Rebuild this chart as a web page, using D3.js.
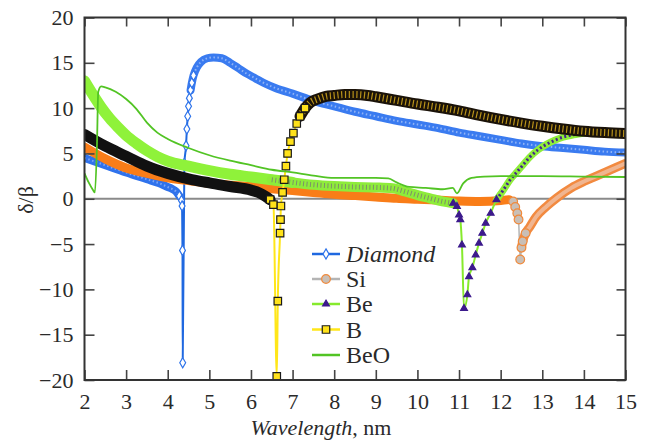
<!DOCTYPE html>
<html>
<head>
<meta charset="utf-8">
<script src="https://cdn.jsdelivr.net/npm/d3@7"></script>
<style>
  body { margin: 0; background: #fff; }
  svg { display: block; }
</style>
</head>
<body>
<div id="chart"></div>
<script>

// Data (wavelength in nm, delta/beta)
// ======================================================

const diamondX = [2.0, 2.5, 3.0, 3.5, 3.8, 4.0, 4.1, 4.2, 4.28, 4.33, 4.345, 4.355, 4.36, 4.40, 4.44, 4.46, 4.48, 4.5, 4.52, 4.55, 4.58, 4.62, 4.7, 4.8, 4.95, 5.1, 5.3, 5.5, 5.7, 5.9, 6.1, 6.3, 6.6, 7.0, 7.5, 8.0, 8.5, 9.0, 9.5, 10.0, 10.5, 11.0, 11.5, 12.0, 12.5, 13.0, 13.5, 14.0, 14.5, 15.0];
const diamondY = [4.5, 3.7, 2.9, 2.15, 1.7, 1.3, 1.1, 0.8, 0.3, -0.2, -0.8, -5.7, -18.1, 3.9, 5.85, 7.7, 9.1, 10.2, 11.1, 12.0, 12.8, 13.6, 14.5, 15.1, 15.5, 15.6, 15.5, 15.0, 14.4, 13.8, 13.3, 12.8, 12.2, 11.6, 10.8, 10.2, 9.6, 9.1, 8.6, 8.2, 7.8, 7.3, 6.9, 6.5, 6.1, 5.8, 5.6, 5.4, 5.2, 5.1];

const siX = [2.0, 2.5, 3.0, 3.5, 4.0, 4.5, 5.0, 5.5, 6.0, 6.5, 7.0, 7.5, 8.0, 8.5, 9.0, 9.5, 10.0, 10.5, 11.0, 11.5, 12.0, 12.2, 12.3, 12.35, 12.4, 12.43, 12.47, 12.5, 12.53, 12.6, 12.7, 12.85, 13.1, 13.35, 13.7, 14.0, 14.3, 14.6, 15.0];
const siY = [5.7, 4.4, 3.4, 2.8, 2.3, 2.0, 1.7, 1.5, 1.35, 1.1, 0.9, 0.7, 0.5, 0.35, 0.2, 0.05, -0.05, -0.15, -0.25, -0.3, -0.2, -0.1, -0.3, -0.9, -1.6, -2.3, -6.7, -5.4, -4.7, -3.8, -3.1, -2.0, -0.85, 0.1, 1.2, 1.9, 2.5, 3.1, 3.9];

const beX = [2.0, 2.2, 2.4, 2.6, 2.8, 3.0, 3.25, 3.5, 3.75, 4.0, 4.5, 5.0, 5.5, 6.0, 6.5, 7.0, 7.5, 8.0, 8.5, 9.0, 9.4, 9.7, 10.0, 10.3, 10.6, 10.86, 10.95, 11.0, 11.03, 11.07, 11.12, 11.2, 11.24, 11.32, 11.4, 11.48, 11.56, 11.64, 11.76, 11.9, 12.07, 12.23, 12.4, 12.55, 12.7, 12.9, 13.1, 13.3, 13.5, 13.75, 14.03];
const beY = [13.0, 11.5, 10.1, 8.9, 7.9, 7.0, 6.1, 5.3, 4.65, 4.15, 3.6, 3.1, 2.7, 2.4, 2.1, 1.8, 1.55, 1.4, 1.3, 1.25, 1.15, 0.8, 0.4, 0.05, -0.3, -0.5, -0.85, -1.8, -2.3, -5.1, -12.1, -10.6, -8.6, -7.6, -6.2, -4.9, -3.8, -2.7, -1.6, -0.1, 1.0, 2.1, 3.0, 3.8, 4.6, 5.4, 6.0, 6.45, 6.8, 7.05, 7.25];

const bX = [2.0, 2.5, 3.0, 3.5, 4.0, 4.5, 5.0, 5.5, 6.0, 6.2, 6.35, 6.46, 6.54, 6.62, 6.645, 6.70, 6.71, 6.72, 6.76, 6.80, 6.84, 6.88, 6.95, 7.02, 7.1, 7.18, 7.3, 7.42, 7.6, 7.8, 8.0, 8.25, 8.5, 8.8, 9.0, 9.5, 10.0, 10.5, 11.0, 11.5, 12.0, 12.5, 13.0, 13.5, 14.0, 14.5, 15.0];
const bY = [7.1, 5.8, 4.7, 3.6, 2.8, 2.2, 1.75, 1.35, 0.95, 0.65, 0.25, -0.1, -0.65, -19.6, -11.3, -3.8, -2.3, -0.8, 0.7, 2.1, 3.6, 5.0, 6.3, 7.25, 8.3, 9.1, 10.0, 10.6, 11.0, 11.3, 11.4, 11.5, 11.5, 11.4, 11.25, 10.85, 10.45, 10.1, 9.7, 9.2, 8.75, 8.35, 8.0, 7.7, 7.45, 7.3, 7.2];

const beoX = [2.0, 2.1, 2.2, 2.25, 2.3, 2.33, 2.4, 2.5, 2.75, 3.0, 3.25, 3.5, 3.75, 4.0, 4.5, 5.0, 5.5, 6.0, 6.5, 7.0, 7.5, 8.0, 8.5, 9.0, 9.3, 9.5, 9.8, 10.2, 10.6, 10.85, 10.95, 11.1, 11.3, 11.6, 12.0, 13.0, 14.0, 15.0];
const beoY = [2.8, 1.8, 1.0, 0.7, 6.0, 11.8, 12.4, 12.3, 11.8, 11.0, 9.9, 8.4, 7.3, 6.6, 5.6, 4.8, 4.2, 3.7, 3.2, 2.9, 2.55, 2.3, 2.3, 2.3, 2.25, 1.8, 1.3, 1.2, 1.05, 1.2, 0.6, 1.7, 2.3, 2.45, 2.5, 2.5, 2.45, 2.4];

const seriesNames = ["Diamond", "Si", "Be", "B", "BeO"];
const xTicks = d3.range(2, 16);
const yTicks = d3.range(-20, 21, 5);


// Styles
// ======

const FONT = "'Liberation Serif', 'DejaVu Serif', serif";

const series = [
  { name: "Diamond", xs: diamondX, ys: diamondY, line: "#1f68e0", lw: 2, shape: d3.symbolDiamond, size: 30,
    fill: "#ffffff", edge: "#2f74ea", marks: [4.28, 4.62],
    bands: [ { r: [2, 4.28], w: 8, c: "#2f72ec", inner: { w: 2, c: "#7ea6f4", dash: "1.5 2.5" } },
             { r: [4.55, 15], w: 8, c: "#3a7bf0", inner: { w: 2, c: "#8fb3f6", dash: "1.5 2.5" } } ] },
  { name: "Si", xs: siX, ys: siY, line: "#b4b4b4", lw: 1.5, shape: d3.symbolCircle, size: 60,
    fill: "#c9bfb6", edge: "#f08a3c", marks: [12.3, 12.6],
    bands: [ { r: [2, 12.25], w: 9, c: "#f97d18" },
             { r: [12.5, 15], w: 9, c: "#f28a40", inner: { w: 4, c: "#f0b590" } } ] },
  { name: "Be", xs: beX, ys: beY, line: "#86ea2c", lw: 2, shape: d3.symbolTriangle, size: 20,
    fill: "#3c1a8c", edge: "#3c1a8c", marks: [10.86, 11.9],
    bands: [ { r: [2, 7], w: 11, c: "#8ff23a" },
             { r: [6.5, 10.86], w: 10, c: "#8eec3a", inner: { w: 5, c: "#7d8f6a", dash: "1 2.5" } },
             { r: [11.9, 14.03], w: 7, c: "#8fee3a", inner: { w: 3, c: "#46248c", dash: "2 2.5" } } ] },
  { name: "B", xs: bX, ys: bY, line: "#ffe619", lw: 2, shape: d3.symbolSquare, size: 56,
    fill: "#ffe21a", edge: "#1a1a1a", marks: [6.46, 7.3],
    bands: [ { r: [2, 6.46], w: 11, c: "#111111" },
             { r: [7.18, 15], w: 11, c: "#1a1208", inner: { w: 7, c: "#b8921a", dash: "1.2 2.6" } } ] },
  { name: "BeO", xs: beoX, ys: beoY, line: "#52c424", lw: 1.8, shape: null, marks: null, bands: [] }
];


// Chart
// =====

const W = 651, H = 443;
const svg = d3.select("#chart").append("svg")
  .attr("width", W).attr("height", H)
  .attr("font-family", FONT);

const x = d3.scaleLinear().domain([2, 15]).range([84.5, 625.5]);
const y = d3.scaleLinear().domain([-20, 20]).range([380, 17.5]);

svg.append("clipPath").attr("id", "plot-clip")
  .append("rect")
    .attr("x", x(2)).attr("y", y(20))
    .attr("width", x(15) - x(2)).attr("height", y(-20) - y(20));

// zero line
svg.append("line")
  .attr("x1", x(2)).attr("x2", x(15))
  .attr("y1", y(0)).attr("y2", y(0))
  .attr("stroke", "#8a8a8a").attr("stroke-width", 2);

const plot = svg.append("g").attr("clip-path", "url(#plot-clip)");

const line = d3.line()
  .x(d => x(d[0]))
  .y(d => y(d[1]))
  .curve(d3.curveMonotoneX);

series.forEach(s => {
  const pts = s.xs.map((v, i) => [v, s.ys[i]]);
  const g = plot.append("g");

  g.append("path")
    .attr("d", line(pts))
    .attr("fill", "none")
    .attr("stroke", s.line)
    .attr("stroke-width", s.lw);

  s.bands.forEach(b => {
    const seg = pts.filter(p => p[0] >= b.r[0] && p[0] <= b.r[1]);
    g.append("path")
      .attr("d", line(seg))
      .attr("fill", "none")
      .attr("stroke", b.c)
      .attr("stroke-width", b.w)
      .attr("stroke-linecap", "round")
      .attr("stroke-linejoin", "round");
    if (b.inner) {
      g.append("path")
        .attr("d", line(seg))
        .attr("fill", "none")
        .attr("stroke", b.inner.c)
        .attr("stroke-width", b.inner.w)
        .attr("stroke-dasharray", b.inner.dash || null);
    }
  });

  if (s.marks) {
    g.selectAll("path.mark")
      .data(pts.filter(p => p[0] >= s.marks[0] && p[0] <= s.marks[1]))
      .enter()
      .append("path")
        .attr("class", "mark")
        .attr("d", d3.symbol().type(s.shape).size(s.size))
        .attr("transform", d => `translate(${x(d[0])},${y(d[1])})`)
        .attr("fill", s.fill)
        .attr("stroke", s.edge)
        .attr("stroke-width", 1.2);
  }
});


// Axes
// ----

const fontSize = 22;

const styleAxis = (g) => {
  g.attr("font-family", FONT).attr("font-size", fontSize);
  g.select(".domain").remove();
  g.selectAll(".tick line").attr("stroke", "#444").attr("stroke-width", 1.6);
  g.selectAll("text")
    .attr("font-family", FONT)
    .attr("font-size", fontSize)
    .attr("fill", "#2a2a2a");
};

svg.append("g")
  .attr("transform", `translate(${x(2)},0)`)
  .call(d3.axisLeft(y).tickValues(yTicks).tickSizeInner(-10).tickSizeOuter(0).tickPadding(11))
  .call(styleAxis);

svg.append("g")
  .attr("transform", `translate(${x(15)},0)`)
  .call(d3.axisRight(y).tickValues(yTicks).tickSizeInner(-9).tickSizeOuter(0).tickFormat(""))
  .call(styleAxis);

svg.append("g")
  .attr("transform", `translate(0,${y(-20)})`)
  .call(d3.axisBottom(x).tickValues(xTicks).tickSizeInner(-10).tickSizeOuter(0).tickPadding(13).tickFormat(d3.format("d")))
  .call(styleAxis);

svg.append("g")
  .attr("transform", `translate(0,${y(20)})`)
  .call(d3.axisTop(x).tickValues(xTicks).tickSizeInner(-9).tickSizeOuter(0).tickFormat(""))
  .call(styleAxis);

// frame
svg.append("rect")
  .attr("x", x(2)).attr("y", y(20))
  .attr("width", x(15) - x(2)).attr("height", y(-20) - y(20))
  .attr("fill", "none")
  .attr("stroke", "#333")
  .attr("stroke-width", 2);

// axis titles
const xTitle = svg.append("text")
  .attr("x", 321).attr("y", 435)
  .attr("text-anchor", "middle")
  .attr("font-family", FONT)
  .attr("font-size", fontSize)
  .attr("fill", "#2a2a2a");
xTitle.append("tspan").attr("font-style", "italic").text("Wavelength");
xTitle.append("tspan").text(", nm");

svg.append("text")
  .attr("transform", `translate(33,200) rotate(-90)`)
  .attr("text-anchor", "middle")
  .attr("font-family", FONT)
  .attr("font-size", fontSize)
  .attr("fill", "#2a2a2a")
  .text("δ/β");


// Legend
// ------

const legend = svg.append("g");
const legendY = [254, 279, 304, 329.5, 355];

series.forEach((s, i) => {
  const ly = legendY[i];
  legend.append("line")
    .attr("x1", 312).attr("x2", 340)
    .attr("y1", ly).attr("y2", ly)
    .attr("stroke", s.line)
    .attr("stroke-width", 2.5);
  if (s.shape) {
    legend.append("path")
      .attr("d", d3.symbol().type(s.shape).size(s.size))
      .attr("transform", `translate(326,${ly})`)
      .attr("fill", s.fill)
      .attr("stroke", s.edge)
      .attr("stroke-width", 1.2);
  }
  legend.append("text")
    .attr("x", 346).attr("y", ly + 8)
    .attr("font-family", FONT)
    .attr("font-size", 24)
    .attr("fill", "#2a2a2a")
    .attr("font-style", i === 0 ? "italic" : null)
    .text(seriesNames[i]);
});

</script>
</body>
</html>
